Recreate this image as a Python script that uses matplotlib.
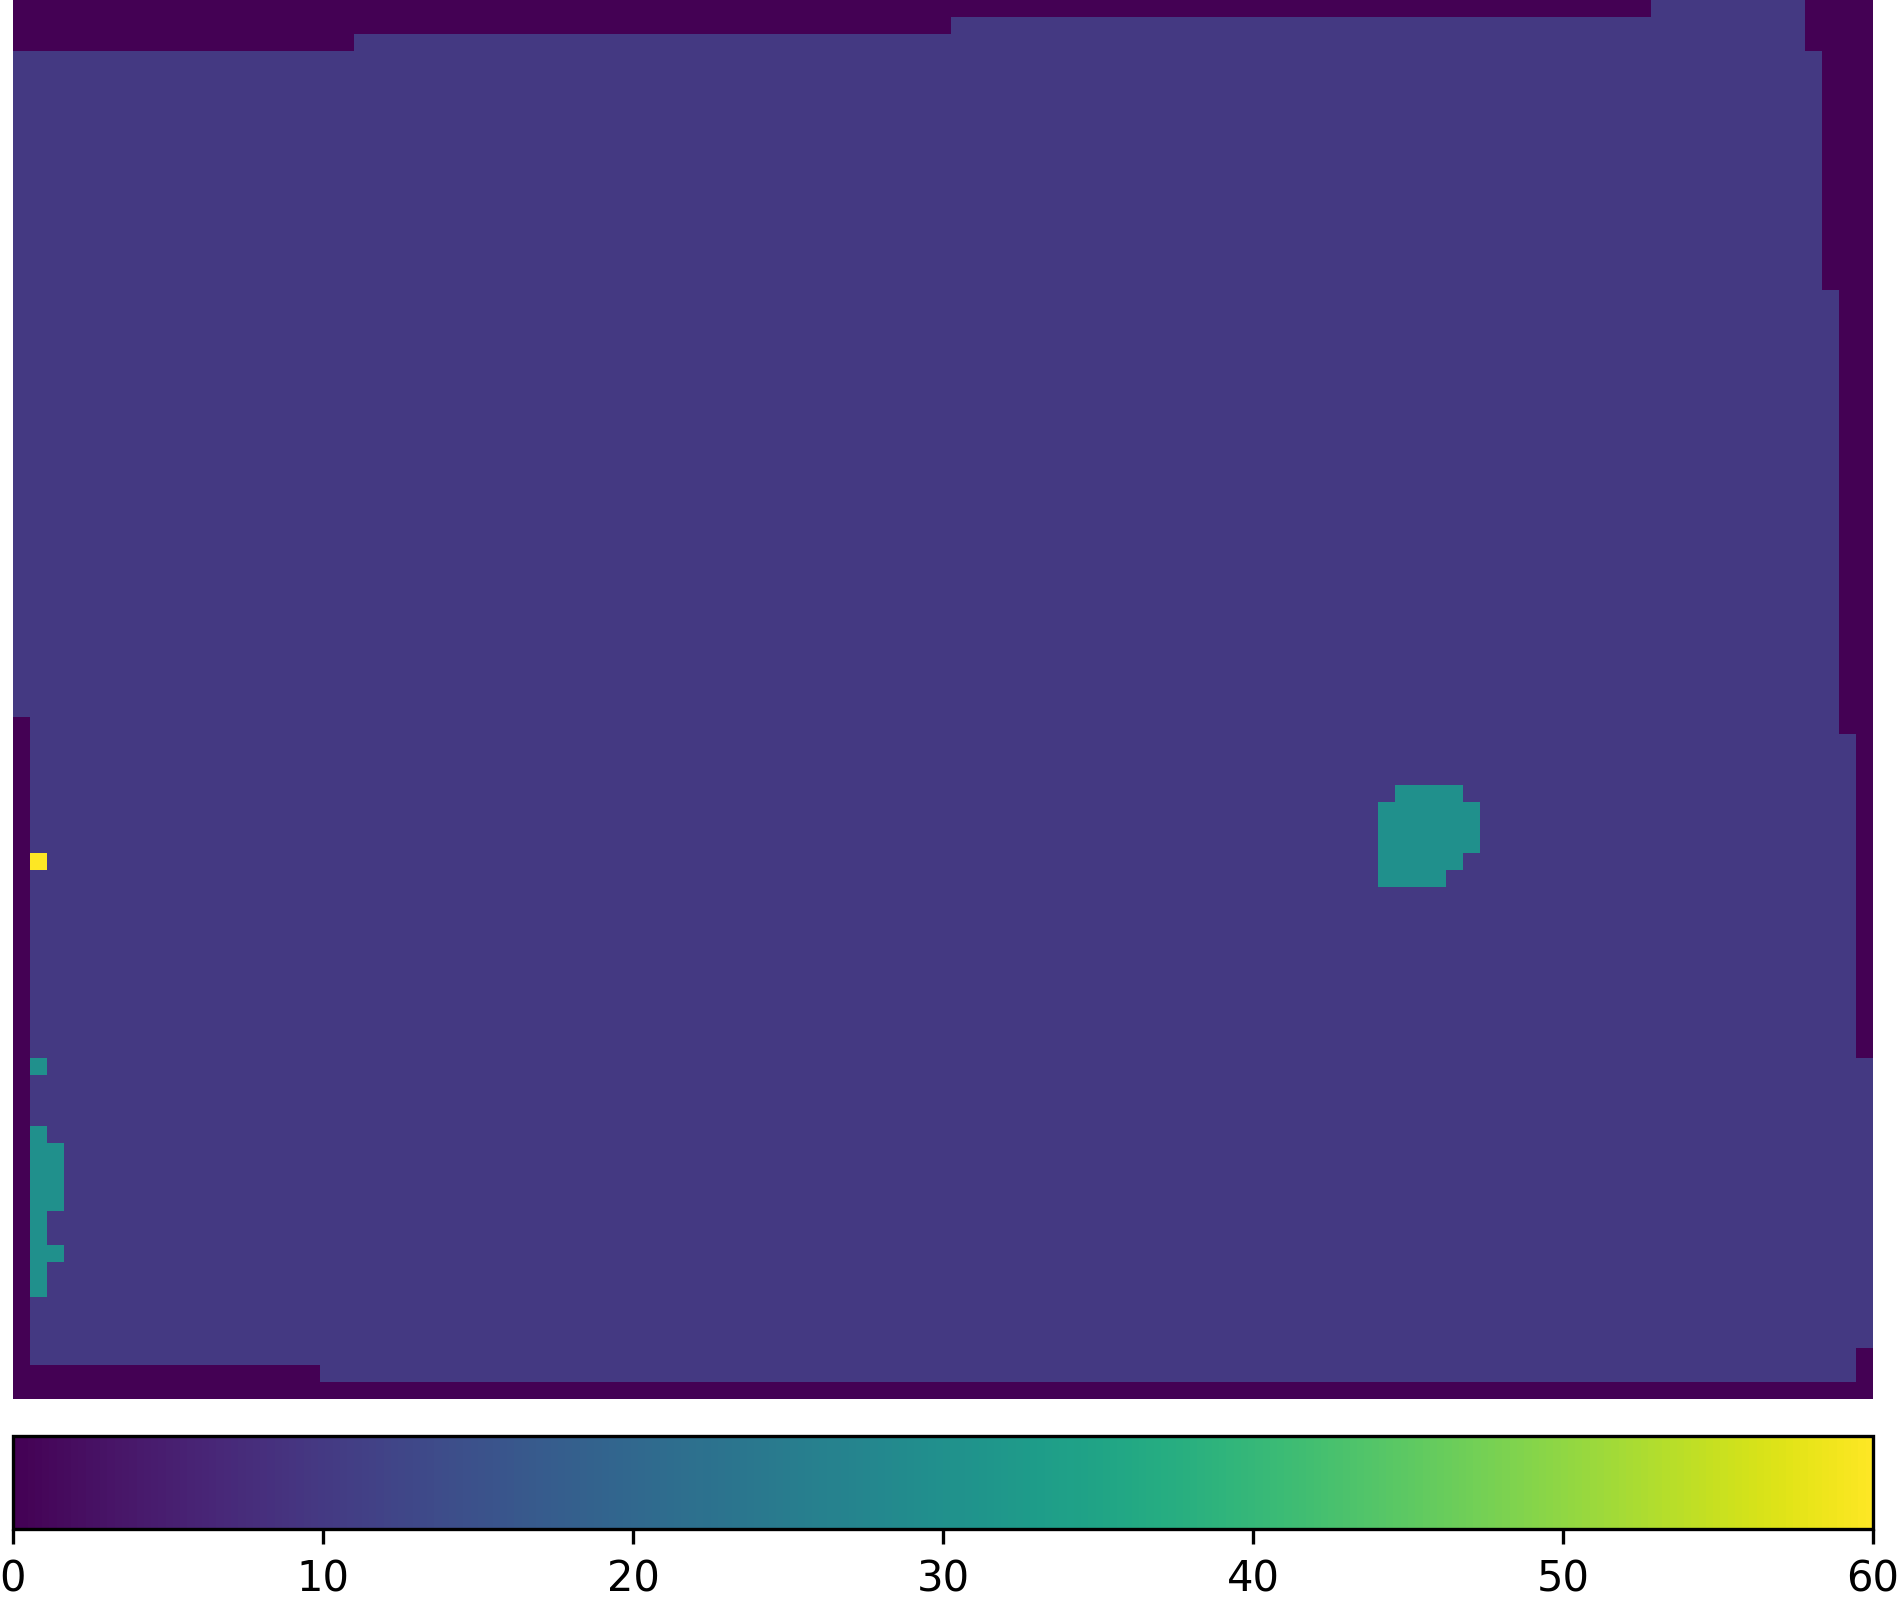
import numpy as np
import matplotlib
matplotlib.use('Agg')
import matplotlib.pyplot as plt

# Tamaño de la rejilla (filas x columnas)
n_filas, n_cols = 82, 109

# Valores de las celdas
valor_fondo = 10
valor_borde = 0
valor_manchas = 30
valor_pico = 60

# Segmentos del borde con valor 0: (fila_ini, fila_fin, col_ini, col_fin), fin incluido
borde = [
    (0, 0, 0, 95), (0, 2, 105, 108),
    (1, 1, 0, 54), (2, 2, 0, 19),
    (3, 16, 106, 108), (17, 42, 107, 108), (43, 61, 108, 108),
    (42, 81, 0, 0), (80, 80, 0, 17), (81, 81, 0, 108), (79, 81, 108, 108),
]

# Zonas con valor 30
manchas = [
    (62, 62, 1, 1), (66, 75, 1, 1), (67, 70, 2, 2), (73, 73, 2, 2),
    (46, 46, 81, 84), (47, 49, 80, 85), (50, 50, 80, 84), (51, 51, 80, 83),
]

# Celda con el máximo
pico = [(50, 50, 1, 1)]

datos = np.full((n_filas, n_cols), valor_fondo, dtype=float)
for zonas, v in [(borde, valor_borde), (manchas, valor_manchas), (pico, valor_pico)]:
    for f0, f1, c0, c1 in zonas:
        datos[f0:f1 + 1, c0:c1 + 1] = v

fig = plt.figure(figsize=(1899 / 300, 1600 / 300), dpi=300)
ax = fig.add_axes([13 / 1899, 1 - 1399 / 1600, 1860 / 1899, 1399 / 1600])
im = ax.imshow(datos, cmap='viridis', vmin=0, vmax=60, aspect='auto', interpolation='nearest')
ax.axis('off')

cax = fig.add_axes([13 / 1899, 1 - 1529 / 1600, 1860 / 1899, 93 / 1600])
cb = fig.colorbar(im, cax=cax, orientation='horizontal')
cb.set_ticks([0, 10, 20, 30, 40, 50, 60])

fig.savefig('out.png', dpi=300)
